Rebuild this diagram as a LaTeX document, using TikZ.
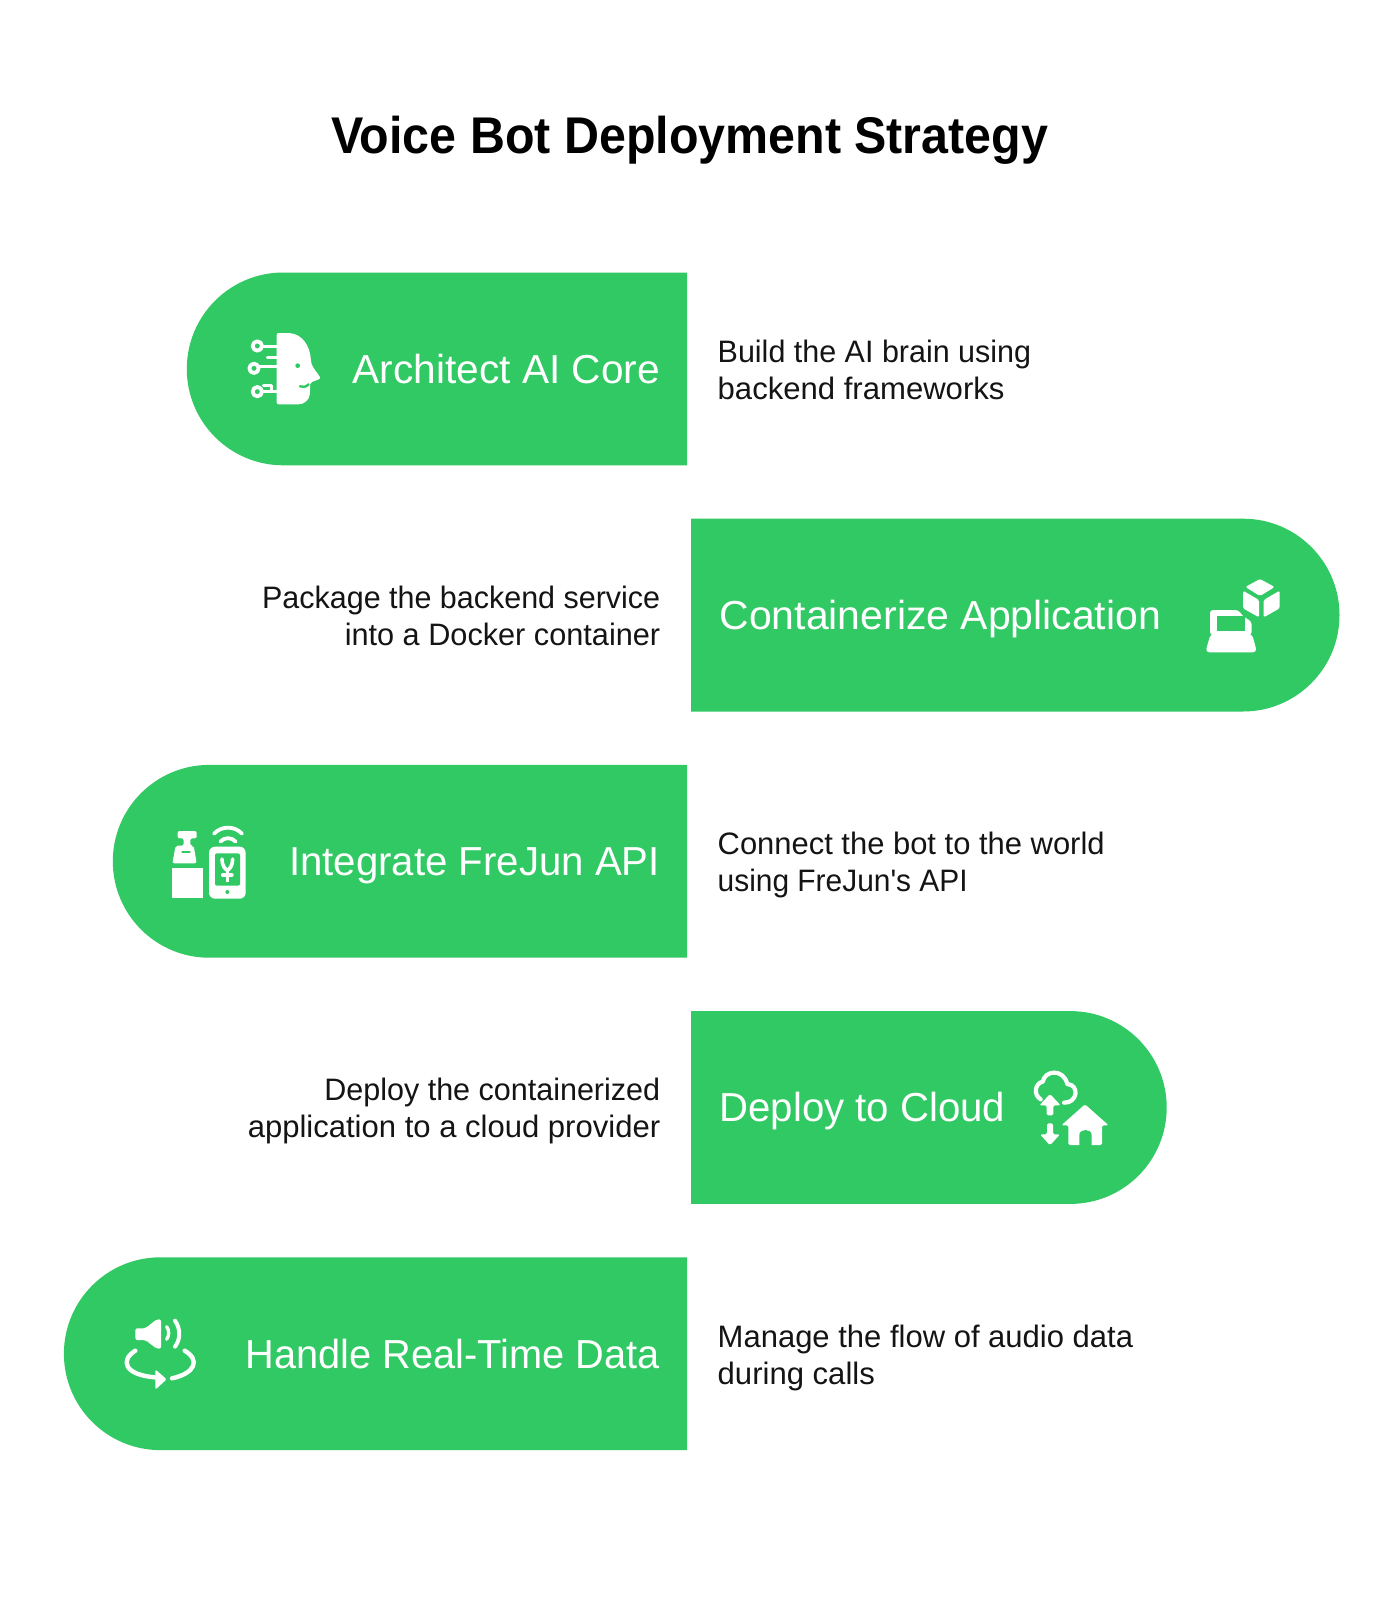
\documentclass[tikz,border=0pt]{standalone}
\usepackage{fontspec}
\usepackage{graphicx}
\setmainfont{Liberation Sans}
\newfontfamily\rawfont{Liberation Sans}
\definecolor{pillgreen}{HTML}{31C963}
\newcommand{\fitw}[2]{\resizebox{#1pt}{\height}{#2}}
\tikzset{
  pill/.style={fill=pillgreen,draw=none},
  titletext/.style={inner sep=0pt,anchor=base west,text=black,font=\fontsize{51.6}{60}\selectfont\bfseries},
  pilltextR/.style={inner sep=0pt,anchor=base east,text=white,font=\fontsize{40.5}{48}\selectfont},
  pilltextL/.style={inner sep=0pt,anchor=base west,text=white,font=\fontsize{40.5}{48}\selectfont},
  descL/.style={inner sep=0pt,anchor=base west,align=left,text=black!92,font=\fontsize{31}{37}\selectfont},
  descR/.style={inner sep=0pt,anchor=base east,align=right,text=black!92,font=\fontsize{31}{37}\selectfont},
  icon/.style={x=0.33333pt,y=-0.33333pt},
  ws/.style={draw=white,line cap=round,line join=round,line width=#1pt},
  gs/.style={draw=pillgreen,line cap=round,line join=round,line width=#1pt},
}
\begin{document}
\begin{tikzpicture}[x=1pt,y=-1pt]
\useasboundingbox (0,0) rectangle (1378,1600);
\fill[white] (0,0) rectangle (1378,1600);
\node[titletext] (title) at (331,153) {\fitw{717}{Voice Bot Deployment Strategy}};

\path[pill] (687,272.5) -- (283.2,272.5) arc[start angle=90,end angle=270,radius=96.4pt] -- (687,465.3) -- cycle;
\path[pill] (691,518.7) -- (1243.1,518.7) arc[start angle=90,end angle=-90,radius=96.4pt] -- (691,711.5) -- cycle;
\path[pill] (687,764.9) -- (209.2,764.9) arc[start angle=90,end angle=270,radius=96.4pt] -- (687,957.7) -- cycle;
\path[pill] (691,1011.1) -- (1070.3,1011.1) arc[start angle=90,end angle=-90,radius=96.4pt] -- (691,1203.9) -- cycle;
\path[pill] (687,1257.3) -- (160.3,1257.3) arc[start angle=90,end angle=270,radius=96.4pt] -- (687,1450.1) -- cycle;

\node[pilltextR] (l1) at (660,383.3) {\fitw{307}{Architect AI Core}};
\node[pilltextL] (l2) at (719.4,629.5) {\fitw{441.5}{Containerize Application}};
\node[pilltextR] (l3) at (660,875.7) {\fitw{370.6}{Integrate FreJun API}};
\node[pilltextL] (l4) at (719.4,1121.9) {\fitw{285.8}{Deploy to Cloud}};
\node[pilltextR] (l5) at (660,1368) {\fitw{413.8}{Handle Real-Time Data}};

\node[descL] (d1) at (717.5,399.3) {\fitw{313.4}{Build the AI brain using}\\\fitw{286.8}{backend frameworks}};
\node[descR] (d2) at (660.4,645.3) {\fitw{398}{Package the backend service}\\\fitw{315.4}{into a Docker container}};
\node[descL] (d3) at (717.5,891.4) {\fitw{386.9}{Connect the bot to the world}\\\fitw{250}{using FreJun{\rawfont'}s API}};
\node[descR] (d4) at (660.4,1137.8) {\fitw{335.8}{Deploy the containerized}\\\fitw{412.4}{application to a cloud provider}};
\node[descL] (d5) at (717.5,1384) {\fitw{415.4}{Manage the flow of audio data}\\\fitw{157.2}{during calls}};

% icon 1: head
\begin{scope}[shift={(230,315)},icon]
\fill[white,rounded corners=2pt] (140,54) -- (175,54) .. controls (215,58) and (240,90) .. (243,140) .. controls (248,160) and (264,175) .. (272,191) -- (240,203) -- (240,232) .. controls (238,255) and (222,268) .. (200,268) -- (140,268) -- cycle;
\fill[pillgreen] (203,152) circle[radius=7];
\draw[gs=2.4] (210,214) .. controls (218,218) and (228,216) .. (236,208);
\draw[ws=3.8,line cap=butt] (82,93) circle[radius=14];
\draw[ws=3.8,line cap=butt] (72,160) circle[radius=14];
\draw[ws=3.8,line cap=butt] (82,230) circle[radius=14];
\draw[ws=3,line cap=butt] (98,93) -- (142,93);
\draw[ws=3] (112,128) -- (142,128);
\draw[ws=3,line cap=butt] (88,155) -- (142,155);
\draw[ws=3,line cap=butt] (98,230) -- (142,230);
\draw[ws=3] (100,210) -- (125,210) -- (125,230);
\end{scope}

% icon 2: laptop and cube
\begin{scope}[shift={(1170,555)},icon]
\fill[white,rounded corners=3pt] (120,240) -- (120,165) -- (205,165) -- (218,183) -- (245,200) -- (245,240) -- cycle;
\fill[pillgreen] (140,182) rectangle (225,228);
\fill[white,rounded corners=4pt] (122,236) -- (246,236) -- (261,292) -- (106,292) -- cycle;
\fill[white,rounded corners=1.5pt] (270,72) -- (314,96) -- (270,123) -- (226,96) -- cycle;
\fill[white,rounded corners=1.5pt] (219,107) -- (267,135) -- (267,187) -- (219,160) -- cycle;
\fill[white,rounded corners=1.5pt] (281,135) -- (329,107) -- (329,160) -- (281,187) -- cycle;
\end{scope}

% icon 3: bottle and phone
\begin{scope}[shift={(155,795)},icon]
\fill[white,rounded corners=2pt] (68,108) -- (125,108) -- (125,130) -- (106,130) -- (106,152) -- (116,152) -- (125,205) -- (52,205) -- (62,152) -- (86,152) -- (86,130) -- (68,130) -- cycle;
\draw[gs=2.2] (82,170) -- (104,170);
\fill[white] (52,218) rectangle (143,309);
\fill[white,rounded corners=6pt] (162,155) rectangle (272,311);
\fill[pillgreen,rounded corners=2pt] (180,175) rectangle (255,272);
\fill[pillgreen] (217,291) circle[radius=6];
\draw[ws=3.6] (201,192) .. controls (201,212) and (210,222) .. (217,226) .. controls (224,222) and (233,212) .. (233,192);
\draw[ws=3.6,line cap=butt] (217,226) -- (217,262);
\draw[ws=3.4] (203,240) -- (231,240);
\draw[ws=3.8] (177,116) .. controls (200,92) and (238,92) .. (261,116);
\draw[ws=3.8] (196,140) .. controls (208,126) and (230,126) .. (242,140);
\end{scope}

% icon 4: cloud and house
\begin{scope}[shift={(1000,1040)},icon]
\draw[ws=4.2] (122,178) .. controls (100,165) and (104,130) .. (128,125) .. controls (135,90) and (190,85) .. (202,132) .. controls (240,135) and (232,190) .. (192,188);
\fill[white,rounded corners=1.5pt] (150,162) -- (182,196) -- (160,196) -- (160,226) -- (140,226) -- (140,196) -- (118,196) -- cycle;
\fill[white,rounded corners=1.5pt] (150,316) -- (120,283) -- (141,283) -- (141,250) -- (159,250) -- (159,283) -- (180,283) -- cycle;
\fill[white,rounded corners=1.5pt] (255,193) -- (326,256) -- (306,256) -- (306,315) -- (205,315) -- (205,256) -- (184,256) -- cycle;
\fill[pillgreen] (238,320) -- (238,285) .. controls (238,265) and (275,265) .. (275,285) -- (275,320) -- cycle;
\end{scope}

% icon 5: speaker and loop
\begin{scope}[shift={(110,1280)},icon]
\fill[white,rounded corners=2pt] (76,145) -- (106,145) -- (140,118) -- (153,118) -- (153,206) -- (140,206) -- (106,180) -- (76,180) -- cycle;
\draw[ws=3.3] (170,140) .. controls (178,150) and (178,168) .. (170,178);
\draw[ws=4] (195,122) .. controls (212,145) and (212,178) .. (195,200);
\draw[ws=4.4] (76,212) .. controls (30,240) and (42,285) .. (136,292);
\draw[ws=4.4] (224,212) .. controls (272,240) and (255,280) .. (186,295);
\fill[white,rounded corners=1.5pt] (136,268) -- (170,298) -- (136,329) -- cycle;
\end{scope}
\end{tikzpicture}
\end{document}
